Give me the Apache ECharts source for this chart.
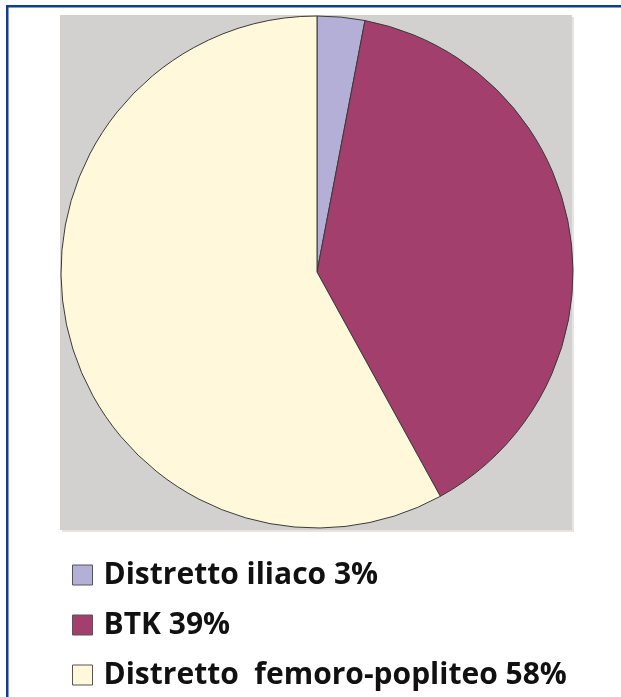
<!DOCTYPE html>
<html>
<head>
<meta charset="utf-8">
<script src="https://cdn.jsdelivr.net/npm/echarts@6/dist/echarts.min.js"></script>
<style>
html,body{margin:0;padding:0;background:#fff;}
#chart{width:621px;height:697px;}
</style>
</head>
<body>
<div id="chart"></div>
<script>
const categories = ['Distretto iliaco', 'BTK', 'Distretto femoro-popliteo'];
const values = [3, 39, 58];
const colors = ['#b3afd6', '#a33f6c', '#fff8da'];

const chart = echarts.init(document.getElementById('chart'), null, {renderer: 'canvas'});
const data = categories.map((c, i) => ({name: c, value: values[i], itemStyle: {color: colors[i]}}));
const valueByName = {};
categories.forEach((c, i) => valueByName[c] = values[i]);

chart.setOption({
  animation: false,
  backgroundColor: '#ffffff',
  graphic: [
    {type: 'rect', shape: {x: 62, y: 17, width: 512, height: 515}, style: {fill: '#e6e4e2'}, z: 0},
    {type: 'rect', shape: {x: 60, y: 15, width: 512, height: 515}, style: {fill: '#d3d1cf'}, z: 1},
    {type: 'rect', shape: {x: 6, y: 5, width: 615, height: 2.5}, style: {fill: '#0e3f8e'}, z: 10},
    {type: 'rect', shape: {x: 6, y: 5, width: 2.5, height: 692}, style: {fill: '#0e3f8e'}, z: 10}
  ],
  legend: {
    orient: 'vertical',
    left: 67,
    top: 555,
    itemWidth: 20,
    itemHeight: 20,
    itemGap: 20,
    icon: 'rect',
    selectedMode: false,
    formatter: name => name.replace(' femoro', '  femoro') + ' ' + valueByName[name] + '%',
    itemStyle: {borderColor: '#555555', borderWidth: 1},
    textStyle: {
      fontFamily: 'Open Sans',
      fontWeight: 'bold',
      fontSize: 30,
      color: '#111111',
      lineHeight: 28,
      padding: [0, 0, 0, 6]
    }
  },
  series: [{
    type: 'pie',
    center: [317, 272],
    radius: [0, 256],
    startAngle: 90,
    clockwise: true,
    label: {show: false},
    labelLine: {show: false},
    emphasis: {disabled: true},
    itemStyle: {borderColor: '#3a3a3a', borderWidth: 1},
    data: data,
    z: 5
  }]
});
</script>
</body>
</html>
